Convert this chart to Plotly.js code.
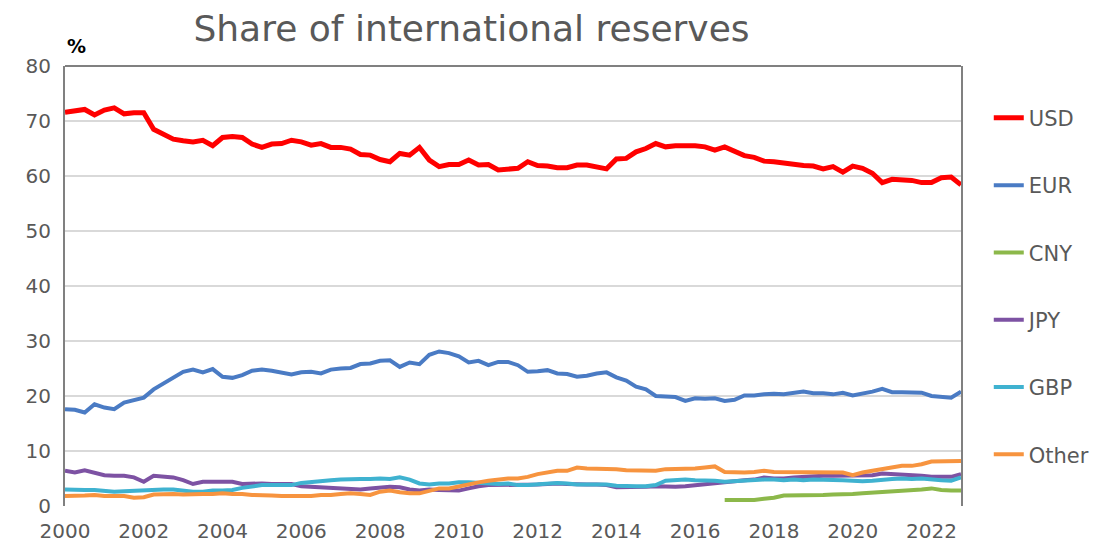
<!DOCTYPE html>
<html>
<head>
<meta charset="utf-8">
<script src="https://cdn.plot.ly/plotly-3.0.1.min.js"></script>
<style>html,body{margin:0;padding:0;background:#fff;}#chart{width:1120px;height:545px;}</style>
</head>
<body>
<div id="chart"></div>
<script>
// Quarterly shares (%), 2000Q1 .. 2022Q4
const startYear = 2000;
const usd = [71.6,71.9,72.1,71.1,72.0,72.4,71.3,71.5,71.5,68.5,
  67.6,66.7,66.4,66.2,66.5,65.5,67.0,67.2,67.0,65.8,
  65.2,65.8,65.9,66.5,66.2,65.6,65.9,65.2,65.2,64.9,
  63.9,63.8,63.0,62.6,64.1,63.8,65.2,62.9,61.7,62.1,
  62.1,62.9,62.0,62.1,61.1,61.3,61.4,62.6,61.9,61.8,
  61.5,61.5,62.0,62.0,61.6,61.3,63.1,63.2,64.4,65.0,
  65.9,65.3,65.5,65.6,65.5,65.3,64.7,65.3,64.5,63.7,
  63.4,62.7,62.6,62.3,62.0,61.9,61.8,61.3,61.7,60.7,
  61.8,61.4,60.5,58.8,59.4,59.3,59.2,58.8,58.8,59.7,
  59.8,58.4];
const eur = [17.6,17.5,17.0,18.5,17.9,17.6,18.8,19.3,19.7,21.2,
  22.2,23.3,24.4,24.8,24.3,24.9,23.5,23.3,23.8,24.6,
  24.8,24.6,24.2,23.9,24.3,24.4,24.1,24.8,25.0,25.1,
  25.8,25.9,26.4,26.5,25.3,26.1,25.8,27.5,28.1,27.8,
  27.2,26.1,26.4,25.6,26.2,26.2,25.6,24.4,24.5,24.7,
  24.1,24.0,23.5,23.7,24.1,24.3,23.4,22.8,21.7,21.2,
  20.0,19.9,19.8,19.1,19.6,19.5,19.6,19.1,19.3,20.1,
  20.1,20.3,20.4,20.3,20.6,20.8,20.5,20.5,20.3,20.6,
  20.1,20.4,20.8,21.3,20.7,20.7,20.7,20.6,20.0,19.8,
  19.7,20.8];
// CNY reported from 2016Q4 onward
const cny = [1.1,1.1,1.1,1.1,1.3,1.5,1.9,1.9,2.0,2.0,
  2.0,2.1,2.1,2.2,2.3,2.4,2.6,2.7,2.8,2.9,
  3.0,3.2,2.9,2.8,2.8];
const jpy = [6.4,6.1,6.5,6.1,5.6,5.5,5.5,5.2,4.4,5.5,
  5.3,5.2,4.7,4.0,4.4,4.4,4.4,4.4,4.0,4.1,
  4.1,4.0,4.0,4.0,3.6,3.5,3.5,3.4,3.2,3.2,
  3.0,3.2,3.4,3.5,3.4,3.0,2.8,3.0,2.9,2.8,
  2.8,3.2,3.6,3.8,3.8,3.8,3.8,3.8,3.9,4.0,
  4.1,4.0,3.9,3.9,3.9,3.8,3.4,3.4,3.5,3.5,
  3.6,3.5,3.5,3.6,3.8,3.9,4.1,4.3,4.5,4.7,
  4.8,5.2,5.0,5.0,5.2,5.3,5.5,5.5,5.5,5.5,
  5.6,5.6,5.6,5.9,5.8,5.8,5.6,5.5,5.3,5.3,
  5.3,5.8];
const gbp = [3.0,2.9,2.9,2.9,2.7,2.6,2.7,2.8,2.8,2.9,
  3.0,3.0,2.8,2.6,2.6,2.8,2.8,2.9,3.3,3.6,
  3.8,3.8,3.8,3.8,4.2,4.4,4.5,4.7,4.8,4.9,
  4.9,4.9,5.0,4.9,5.2,4.8,4.1,3.9,4.1,4.1,
  4.3,4.3,4.2,4.1,4.0,4.1,3.8,3.8,3.9,4.1,
  4.2,4.1,3.9,3.9,3.9,3.9,3.7,3.6,3.6,3.6,
  3.8,4.6,4.7,4.8,4.7,4.7,4.6,4.4,4.5,4.7,
  4.7,4.8,4.8,4.7,4.8,4.7,4.8,4.8,4.8,4.7,
  4.6,4.5,4.6,4.8,4.9,5.0,4.9,5.0,4.8,4.7,
  4.6,5.2];
const other = [1.8,1.8,1.9,2.0,1.8,1.8,1.8,1.5,1.6,2.1,
  2.2,2.2,2.1,2.2,2.2,2.2,2.3,2.2,2.2,2.0,
  2.0,1.9,1.8,1.8,1.7,1.8,2.0,2.0,2.2,2.3,
  2.2,2.0,2.6,2.8,2.5,2.3,2.3,2.8,3.2,3.2,
  3.6,4.0,4.3,4.6,4.8,5.0,5.0,5.3,5.8,6.1,
  6.4,6.4,7.0,6.8,6.8,6.7,6.7,6.5,6.5,6.5,
  6.4,6.7,6.7,6.7,6.8,7.0,7.2,6.2,6.1,6.1,
  6.2,6.4,6.2,6.2,6.1,6.1,6.1,6.1,6.1,6.1,
  5.6,6.1,6.4,6.7,7.0,7.3,7.3,7.6,8.1,8.1,
  8.1,8.2];
const seriesNames = ['USD','EUR','CNY','JPY','GBP','Other'];
const xTickVals = [2000,2002,2004,2006,2008,2010,2012,2014,2016,2018,2020,2022];

const quarters = usd.map((_, i) => startYear + i / 4);
const allSeries = [usd, eur, cny, jpy, gbp, other];
const colors = ['#ff0000','#4a7bc4','#8cb84a','#7d52a3','#3fb2d0','#f7943f'];
const widths = [5, 4, 4, 4, 4, 4];

const traces = allSeries.map((vals, k) => ({
  type: 'scatter', mode: 'lines',
  name: seriesNames[k],
  legendgroup: 'g' + k,
  x: quarters.slice(quarters.length - vals.length),
  y: vals,
  line: {color: colors[k], width: widths[k]},
  hoverinfo: 'skip'
}));

const FONT = 'DejaVu Sans, Liberation Sans, Arial, sans-serif';
const layout = {
  width: 1120, height: 545,
  margin: {l: 65, r: 159, t: 66, b: 39},
  paper_bgcolor: '#ffffff', plot_bgcolor: '#ffffff',
  font: {family: FONT, color: '#595959', size: 20},
  title: {text: 'Share of international reserves', x: 0.421, xref: 'container', xanchor: 'center',
          y: 0.948, yref: 'container', yanchor: 'middle',
          font: {family: FONT, size: 36, color: '#595959'}},
  showlegend: true,
  legend: {x: 1.031, xanchor: 'left', y: 0.928, yanchor: 'top', traceorder: 'grouped',
           tracegroupgap: 37, font: {family: FONT, size: 21, color: '#595959'},
           bgcolor: 'rgba(0,0,0,0)'},
  xaxis: {range: [2000, 2022.75], tickmode: 'array', tickvals: xTickVals,
          ticktext: xTickVals.map(String), showgrid: false, zeroline: false,
          showline: false, ticks: '', ticklabelstandoff: 11,
          tickfont: {family: FONT, size: 20, color: '#595959'}},
  yaxis: {range: [0, 80], dtick: 10, showgrid: true, gridcolor: '#d9d9d9', gridwidth: 1.5,
          zeroline: false, showline: true, linecolor: '#808080', linewidth: 2, mirror: true,
          ticks: '', ticklabelstandoff: 8, tickfont: {family: FONT, size: 20, color: '#595959'}},
  shapes: [{type: 'line', xref: 'paper', yref: 'paper', x0: 0, x1: 1, y0: 1, y1: 1,
            line: {color: '#808080', width: 2}}],
  annotations: [{text: '<b>%</b>', xref: 'paper', yref: 'paper', x: 0.013, y: 1.045,
                 xanchor: 'center', yanchor: 'middle', showarrow: false,
                 font: {family: FONT, size: 19, color: '#000000'}}]
};
Plotly.newPlot('chart', traces, layout, {staticPlot: true, displayModeBar: false});
</script>
</body>
</html>
